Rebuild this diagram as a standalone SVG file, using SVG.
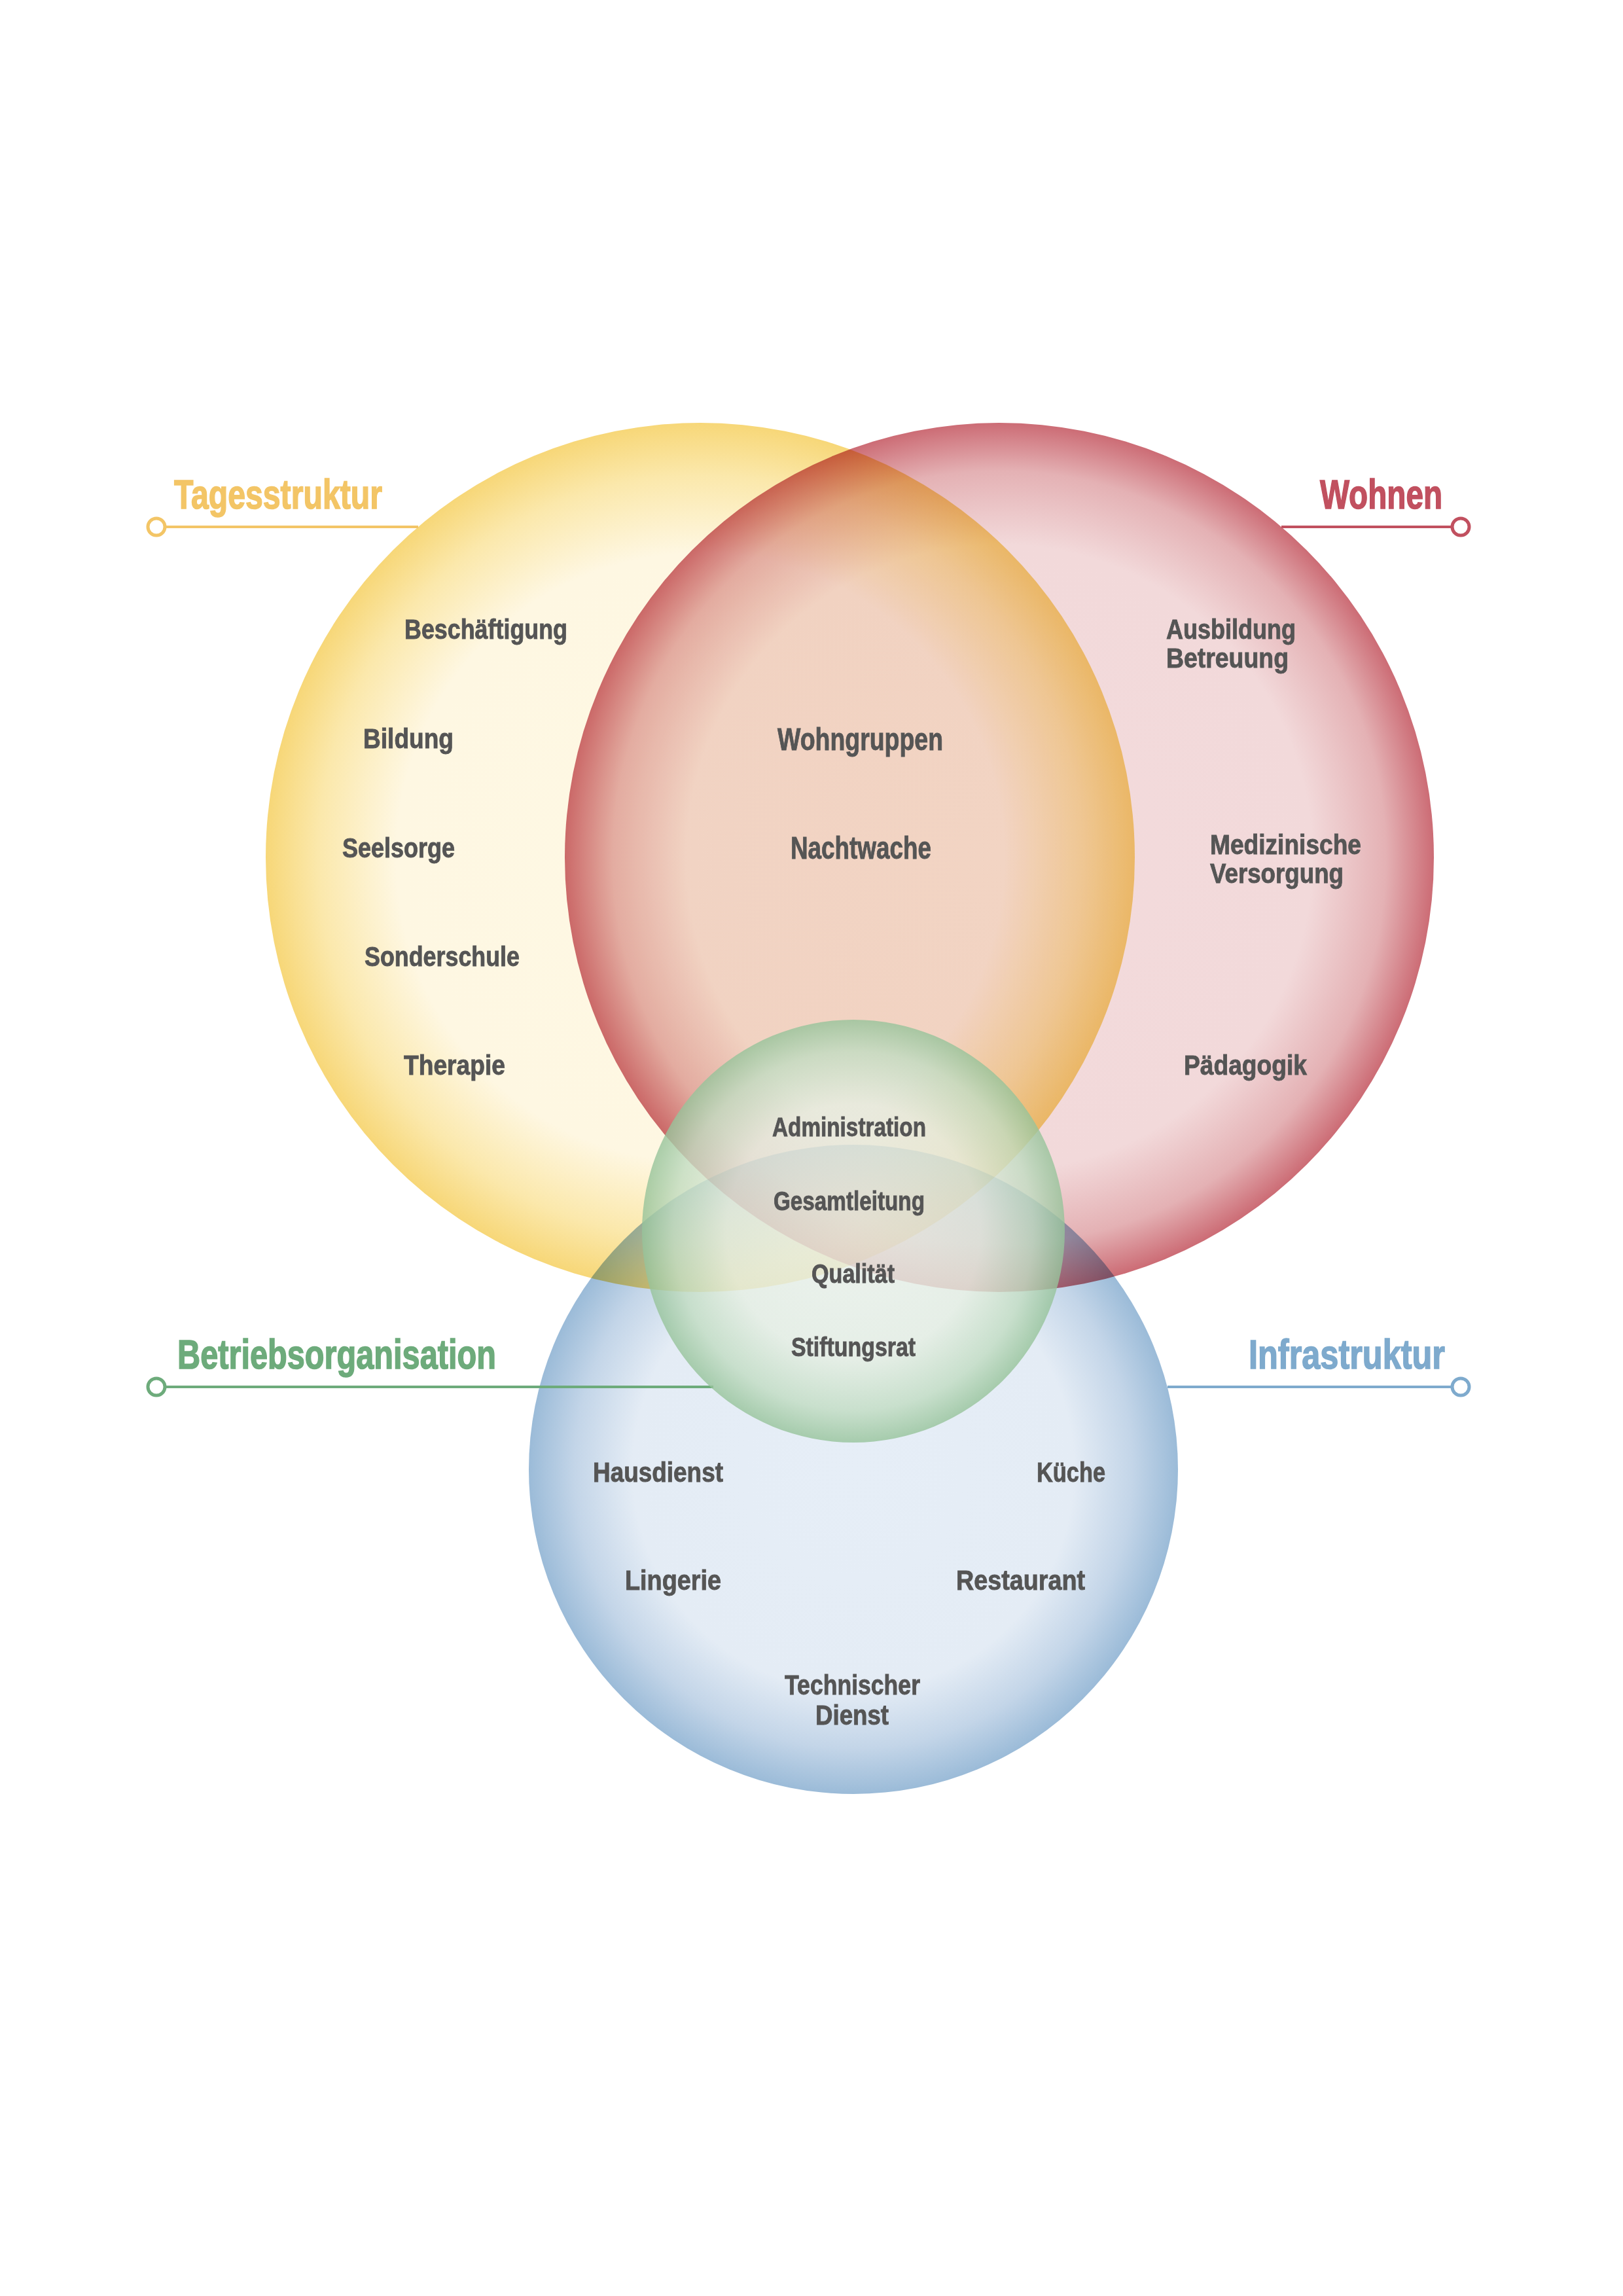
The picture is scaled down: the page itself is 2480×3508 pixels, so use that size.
<svg xmlns="http://www.w3.org/2000/svg" width="2480" height="3508" viewBox="0 0 2480 3508">
<defs>
<radialGradient id="gY" cx="50%" cy="50%" r="50%">
<stop offset="0" stop-color="#fef8e4"/><stop offset="0.7" stop-color="#fef7e2"/><stop offset="0.88" stop-color="#fbe8ab"/><stop offset="1" stop-color="#f7d778"/>
</radialGradient>
<radialGradient id="gR" cx="50%" cy="50%" r="50%">
<stop offset="0" stop-color="#f3dbdc"/><stop offset="0.72" stop-color="#f2d9da"/><stop offset="0.89" stop-color="#e4b1b4"/><stop offset="1" stop-color="#cc6c75"/>
</radialGradient>
<radialGradient id="gB" cx="50%" cy="50%" r="50%">
<stop offset="0" stop-color="#e6eef7"/><stop offset="0.68" stop-color="#e4ecf5"/><stop offset="0.86" stop-color="#c3d5e8"/><stop offset="1" stop-color="#9bbbd8"/>
</radialGradient>
<radialGradient id="gG" cx="50%" cy="50%" r="50%">
<stop offset="0" stop-color="#eef4ec"/><stop offset="0.6" stop-color="#e6efe3"/><stop offset="0.85" stop-color="#c1dcc2"/><stop offset="1" stop-color="#96c39a"/>
</radialGradient>
</defs>
<style>
.mul{mix-blend-mode:multiply}
.lbl{font-family:"Liberation Sans",Arial,sans-serif;font-weight:bold;fill:#555555;stroke:#555555;stroke-width:0.9;font-size:43px}
.big{font-size:48px}
.sm{font-size:40px}
.hd{font-family:"Liberation Sans",Arial,sans-serif;font-weight:bold;font-size:63px;stroke-width:1.6}
.ln{stroke-width:4;fill:none}
.dot{stroke-width:5;fill:#ffffff}
</style>
<rect x="0" y="0" width="2480" height="3508" fill="#ffffff"/>
<g id="circles" style="isolation:isolate">
<g id="node-wohnen"><circle class="mul" cx="1527" cy="1310" r="664" fill="url(#gR)"/></g>
<g id="node-tagesstruktur"><circle class="mul" cx="1070" cy="1310" r="664" fill="url(#gY)"/></g>
<g id="node-infrastruktur"><circle class="mul" cx="1304" cy="2245" r="496" fill="url(#gB)"/></g>
</g>
<g id="connectors">
<line class="ln" x1="253" y1="805" x2="639" y2="805" stroke="#f3c566"/>
<circle class="dot" cx="239" cy="805" r="13" stroke="#f3c566"/>
<line class="ln" x1="1958" y1="805" x2="2218" y2="805" stroke="#c1505f"/>
<circle class="dot" cx="2232" cy="805" r="13" stroke="#c1505f"/>
<line class="ln" x1="253" y1="2119" x2="1090" y2="2119" stroke="#6dab7b"/>
<circle class="dot" cx="239" cy="2119" r="13" stroke="#6dab7b"/>
<line class="ln" x1="1784" y1="2119" x2="2218" y2="2119" stroke="#7eaacd"/>
<circle class="dot" cx="2232" cy="2119" r="13" stroke="#7eaacd"/>
</g>
<g id="node-betriebsorganisation"><circle cx="1304" cy="1881" r="323" fill="url(#gG)" opacity="0.8"/></g>
<g id="headers">
<text class="hd" x="266" y="777" textLength="318" lengthAdjust="spacingAndGlyphs" fill="#f3c566" stroke="#f3c566">Tagesstruktur</text>
<text class="hd" x="2017" y="777" textLength="187" lengthAdjust="spacingAndGlyphs" fill="#c1505f" stroke="#c1505f">Wohnen</text>
<text class="hd" x="271" y="2091" textLength="487" lengthAdjust="spacingAndGlyphs" fill="#6dab7b" stroke="#6dab7b">Betriebsorganisation</text>
<text class="hd" x="1908" y="2091" textLength="300" lengthAdjust="spacingAndGlyphs" fill="#7eaacd" stroke="#7eaacd">Infrastruktur</text>
</g>
<g id="labels-tagesstruktur">
<text class="lbl" x="618" y="976" textLength="249" lengthAdjust="spacingAndGlyphs">Beschäftigung</text>
<text class="lbl" x="555" y="1143" textLength="138" lengthAdjust="spacingAndGlyphs">Bildung</text>
<text class="lbl" x="523" y="1310" textLength="172" lengthAdjust="spacingAndGlyphs">Seelsorge</text>
<text class="lbl" x="557" y="1476" textLength="237" lengthAdjust="spacingAndGlyphs">Sonderschule</text>
<text class="lbl" x="617" y="1642" textLength="155" lengthAdjust="spacingAndGlyphs">Therapie</text>
</g>
<g id="labels-overlap">
<text class="lbl big" x="1188" y="1146" textLength="253" lengthAdjust="spacingAndGlyphs">Wohngruppen</text>
<text class="lbl big" x="1208" y="1312" textLength="215" lengthAdjust="spacingAndGlyphs">Nachtwache</text>
</g>
<g id="labels-wohnen">
<text class="lbl" x="1782" y="976" textLength="198" lengthAdjust="spacingAndGlyphs">Ausbildung</text>
<text class="lbl" x="1782" y="1020" textLength="187" lengthAdjust="spacingAndGlyphs">Betreuung</text>
<text class="lbl" x="1849" y="1305" textLength="231" lengthAdjust="spacingAndGlyphs">Medizinische</text>
<text class="lbl" x="1849" y="1349" textLength="204" lengthAdjust="spacingAndGlyphs">Versorgung</text>
<text class="lbl" x="1809" y="1642" textLength="188" lengthAdjust="spacingAndGlyphs">Pädagogik</text>
</g>
<g id="labels-betriebsorganisation">
<text class="lbl sm" x="1180" y="1736" textLength="235" lengthAdjust="spacingAndGlyphs">Administration</text>
<text class="lbl sm" x="1182" y="1849" textLength="231" lengthAdjust="spacingAndGlyphs">Gesamtleitung</text>
<text class="lbl sm" x="1240" y="1960" textLength="127" lengthAdjust="spacingAndGlyphs">Qualität</text>
<text class="lbl sm" x="1209" y="2072" textLength="190" lengthAdjust="spacingAndGlyphs">Stiftungsrat</text>
</g>
<g id="labels-infrastruktur">
<text class="lbl" x="906" y="2264" textLength="199" lengthAdjust="spacingAndGlyphs">Hausdienst</text>
<text class="lbl" x="1584" y="2264" textLength="105" lengthAdjust="spacingAndGlyphs">Küche</text>
<text class="lbl" x="955" y="2429" textLength="147" lengthAdjust="spacingAndGlyphs">Lingerie</text>
<text class="lbl" x="1461" y="2429" textLength="197" lengthAdjust="spacingAndGlyphs">Restaurant</text>
<text class="lbl" x="1199" y="2589" textLength="207" lengthAdjust="spacingAndGlyphs">Technischer</text>
<text class="lbl" x="1246" y="2635" textLength="112" lengthAdjust="spacingAndGlyphs">Dienst</text>
</g>
</svg>
